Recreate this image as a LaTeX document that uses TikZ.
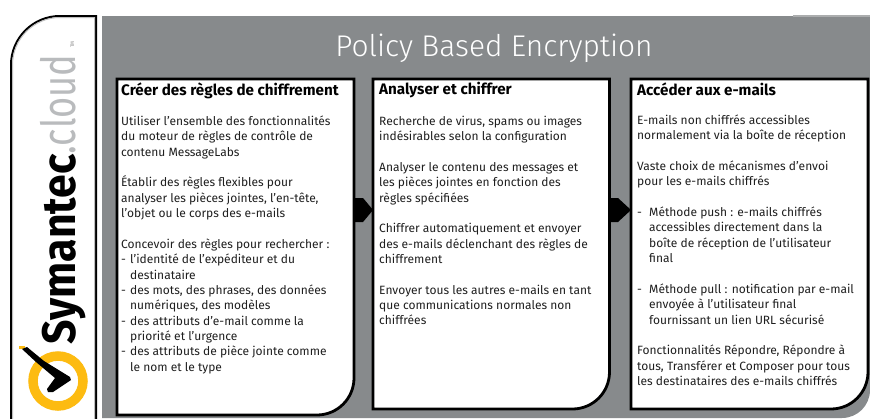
\documentclass[tikz,border=0pt]{standalone}
\usepackage{graphicx}
\usepackage{fontspec}
\setmainfont{Fira Sans}
\newfontfamily\firalight{Fira Sans Light}
\definecolor{panelgray}{HTML}{878A8C}
\definecolor{symyellow}{HTML}{FDBB11}
\definecolor{cloudgray}{HTML}{B9BBBD}
\newcommand{\dashA}{\makebox[9pt][l]{-}}
\newcommand{\indA}{\hspace*{9pt}}
\newcommand{\dashB}{\makebox[12pt][l]{-}}
\newcommand{\indB}{\hspace*{12pt}}
\tikzset{
  x=1pt,y=-1pt,
  card/.style={draw=black,line width=2.8pt,fill=white},
  cardtext/.style={anchor=north west,inner sep=0pt,align=left,font=\fontsize{12}{15.35}\selectfont,text=black!88},
  cardhead/.style={anchor=west,inner sep=0pt,font=\fontsize{15.2}{17}\selectfont\bfseries},
  flowtip/.style={fill=black,draw=none},
}
\begin{document}
\begin{tikzpicture}
\useasboundingbox (0,0) rectangle (870,418);
% left logo tab
\draw[line width=2pt,draw=black,fill=white] (96,430) -- (96,16) -- (60,16) arc[start angle=-90,end angle=-180,radius=49] -- (11,430);
\draw[line width=1pt,draw=black!25] (94.5,430) -- (94.5,17.5) -- (60,17.5) arc[start angle=-90,end angle=-180,radius=47.5] -- (12.5,430);
% main panel
\fill[panelgray] (102,16) -- (870,16) -- (870,390) arc[start angle=0,end angle=90,radius=28] -- (102,418) -- cycle;
\fill[panelgray!70] (793,15) rectangle (870,16.5);
\node[anchor=center,inner sep=0pt,text=white,font=\fontsize{29.9}{32}\firalight] (title) at (494,48) {Policy Based Encryption};
% cards
\draw[card] (117,79) -- (354,79) -- (354,378) arc[start angle=0,end angle=90,radius=37] -- (117,415) -- cycle;
\draw[card] (373,79) -- (609.5,79) -- (609.5,372) arc[start angle=0,end angle=90,radius=37] -- (373,409) -- cycle;
\draw[card] (631,79) -- (868,79) -- (868,372) arc[start angle=0,end angle=90,radius=37] -- (631,409) -- cycle;
\node[cardhead] (h1) at (121,90.5) {Créer des règles de chiffrement};
\node[cardhead] (h2) at (379,90.5) {Analyser et chiffrer};
\node[cardhead] (h3) at (637,89.5) {Accéder aux e-mails};
\node[cardtext] (t1) at (121,115.7) {Utiliser l’ensemble des fonctionnalités\\du moteur de règles de contrôle de\\contenu MessageLabs\\[15.35pt]Établir des règles flexibles pour\\analyser les pièces jointes, l’en-tête,\\l’objet ou le corps des e-mails\\[15.35pt]Concevoir des règles pour rechercher :\\\dashA l’identité de l’expéditeur et du\\\indA destinataire\\\dashA des mots, des phrases, des données\\\indA numériques, des modèles\\\dashA des attributs d’e-mail comme la\\\indA priorité et l’urgence\\\dashA des attributs de pièce jointe comme\\\indA le nom et le type};
\node[cardtext] (t2) at (379,115.7) {Recherche de virus, spams ou images\\indésirables selon la configuration\\[15.35pt]Analyser le contenu des messages et\\les pièces jointes en fonction des\\règles spécifiées\\[15.35pt]Chiffrer automatiquement et envoyer\\des e-mails déclenchant des règles de\\chiffrement\\[15.35pt]Envoyer tous les autres e-mails en tant\\que communications normales non\\chiffrées};
\node[cardtext] (t3) at (637,114.7) {E-mails non chiffrés accessibles\\normalement via la boîte de réception\\[15.35pt]Vaste choix de mécanismes d’envoi\\pour les e-mails chiffrés\\[15.35pt]\dashB Méthode push : e-mails chiffrés\\\indB accessibles directement dans la\\\indB boîte de réception de l’utilisateur\\\indB final\\[15.35pt]\dashB Méthode pull : notification par e-mail\\\indB envoyée à l’utilisateur final\\\indB fournissant un lien URL sécurisé\\[15.35pt]Fonctionnalités Répondre, Répondre à\\tous, Transférer et Composer pour tous\\les destinataires des e-mails chiffrés};
% flow tips
\fill[flowtip] (354,198) -- (363,198) -- (373,210) -- (363,222) -- (354,222) -- cycle;
\fill[flowtip] (609.5,198) -- (618,198) -- (631,210) -- (618,222) -- (609.5,222) -- cycle;
% logo
\node[rotate=90,anchor=base west,inner sep=0pt,font=\fontsize{47}{50}\selectfont\bfseries] (sym) at (75,345) {\scalebox{0.91}[1]{Symantec}\scalebox{0.77}[1]{\textcolor{cloudgray}{\mdseries .cloud}}};
\node[rotate=90,anchor=west,inner sep=0pt,text=black!45,font=\fontsize{5}{5}\selectfont] (tm) at (72.5,48) {TM};
\draw[symyellow,line width=9.5pt] (58,381) circle (25);
\fill[symyellow] (19,346) rectangle (25,349);
\fill[black] (22,349) -- (27,347) -- (44,361) -- (70,377) -- (71,380) -- (53,392) -- (48,392) -- (47,389) -- (55,378) -- (36,362) -- cycle;
\end{tikzpicture}
\end{document}
